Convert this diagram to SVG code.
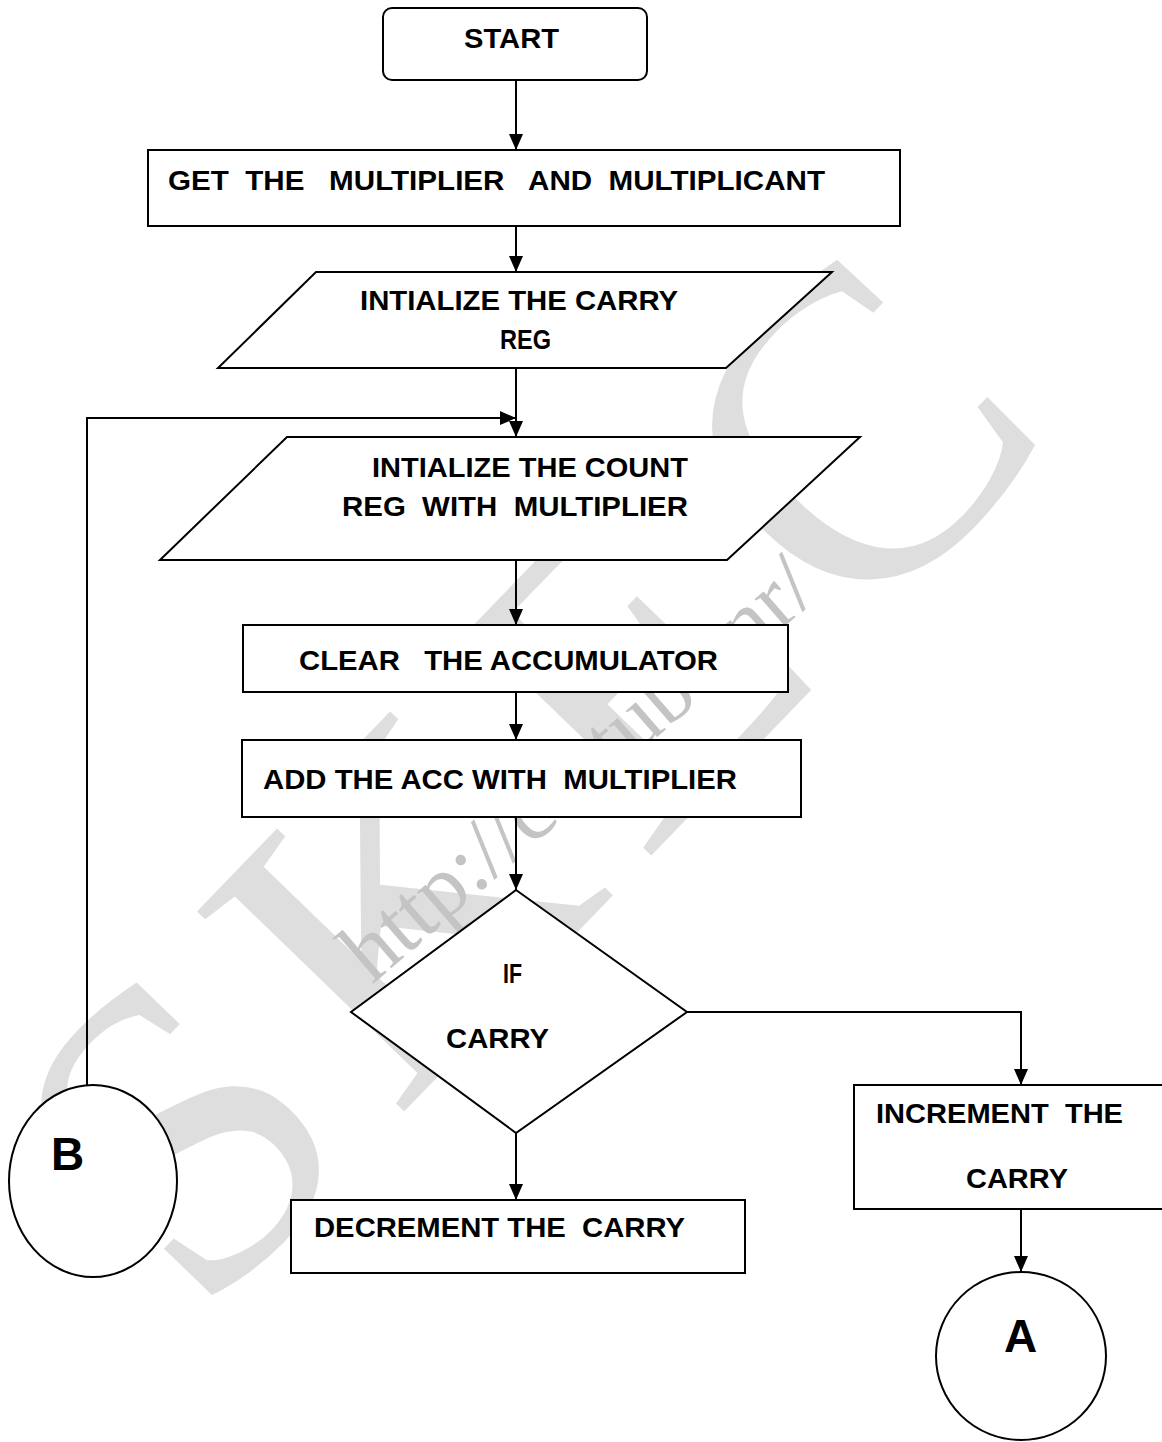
<svg xmlns="http://www.w3.org/2000/svg" width="1162" height="1442" viewBox="0 0 1162 1442">
<style>
.shape{fill:#fff;stroke:#000;stroke-width:2}
.t{font-family:"Liberation Sans",Arial,sans-serif;font-weight:bold;font-size:28px;fill:#000}
.n{font-family:"Liberation Sans",Arial,sans-serif;font-weight:bold;font-size:28px;fill:#000}
.big{font-family:"Liberation Sans",Arial,sans-serif;font-weight:bold;font-size:46px;fill:#000}
.wm{font-family:"Liberation Serif","Times New Roman",serif;fill:#dedede}
.conn{fill:none;stroke:#000;stroke-width:2}
</style>
<defs>
<marker id="ah" markerWidth="16" markerHeight="14" refX="16" refY="7" orient="auto" markerUnits="userSpaceOnUse"><path d="M0,0 L16,7 L0,14 z" fill="#000"/></marker>
</defs>
<rect width="1162" height="1442" fill="#fff"/>
<g id="watermark">
<text class="wm" font-size="440" letter-spacing="38" transform="translate(199,1324) rotate(-46)">SKEC</text>
<text class="wm" font-size="88" style="fill:#c4c4c4" transform="translate(372,985) rotate(-41)">http://csetube.nr/</text>
</g>
<g id="connectors">
<path class="conn" d="M516,80 V150" marker-end="url(#ah)"/>
<path class="conn" d="M516,226 V272" marker-end="url(#ah)"/>
<path class="conn" d="M516,368 V437" marker-end="url(#ah)"/>
<path class="conn" d="M87,1085 V418 H516" marker-end="url(#ah)"/>
<path class="conn" d="M516,560 V625" marker-end="url(#ah)"/>
<path class="conn" d="M516,692 V740" marker-end="url(#ah)"/>
<path class="conn" d="M516,817 V890" marker-end="url(#ah)"/>
<path class="conn" d="M687,1012 H1021 V1085" marker-end="url(#ah)"/>
<path class="conn" d="M516,1133 V1200" marker-end="url(#ah)"/>
<path class="conn" d="M1021,1209 V1272" marker-end="url(#ah)"/>
</g>
<g id="start">
<rect class="shape" x="383" y="8" width="264" height="72" rx="9"/>
<text class="t" x="464" y="48" textLength="95" lengthAdjust="spacingAndGlyphs">START</text>
</g>
<g id="get">
<rect class="shape" x="148" y="150" width="752" height="76"/>
<text class="n" x="168" y="190" xml:space="preserve" textLength="657" lengthAdjust="spacingAndGlyphs">GET  THE   MULTIPLIER   AND  MULTIPLICANT</text>
</g>
<g id="initcarry">
<polygon class="shape" points="316,272 832,272 726,368 218,368"/>
<text class="n" x="360" y="310" textLength="318" lengthAdjust="spacingAndGlyphs">INTIALIZE THE CARRY</text>
<text class="n" x="500" y="349" textLength="51" lengthAdjust="spacingAndGlyphs">REG</text>
</g>
<g id="initcount">
<polygon class="shape" points="287,437 860,437 727,560 160,560"/>
<text class="n" x="372" y="477" textLength="316" lengthAdjust="spacingAndGlyphs">INTIALIZE THE COUNT</text>
<text class="n" x="342" y="516" xml:space="preserve" textLength="346" lengthAdjust="spacingAndGlyphs">REG  WITH  MULTIPLIER</text>
</g>
<g id="clear">
<rect class="shape" x="243" y="625" width="545" height="67"/>
<text class="t" x="299" y="670" xml:space="preserve" textLength="419" lengthAdjust="spacingAndGlyphs">CLEAR   THE ACCUMULATOR</text>
</g>
<g id="add">
<rect class="shape" x="242" y="740" width="559" height="77"/>
<text class="t" x="263" y="789" xml:space="preserve" textLength="474" lengthAdjust="spacingAndGlyphs">ADD THE ACC WITH  MULTIPLIER</text>
</g>
<g id="ifcarry">
<polygon class="shape" points="516,890 687,1012 516,1133 351,1012"/>
<text class="t" x="503" y="983" textLength="19" lengthAdjust="spacingAndGlyphs">IF</text>
<text class="t" x="446" y="1048" textLength="103" lengthAdjust="spacingAndGlyphs">CARRY</text>
</g>
<g id="decrement">
<rect class="shape" x="291" y="1200" width="454" height="73"/>
<text class="t" x="314" y="1237" xml:space="preserve" textLength="371" lengthAdjust="spacingAndGlyphs">DECREMENT THE  CARRY</text>
</g>
<g id="increment">
<rect class="shape" x="854" y="1085" width="320" height="124"/>
<text class="t" x="876" y="1123" xml:space="preserve" textLength="247" lengthAdjust="spacingAndGlyphs">INCREMENT  THE</text>
<text class="t" x="966" y="1188" textLength="102" lengthAdjust="spacingAndGlyphs">CARRY</text>
</g>
<g id="b">
<ellipse class="shape" cx="93" cy="1181" rx="84" ry="96"/>
<text class="big" x="51" y="1170">B</text>
</g>
<g id="a">
<ellipse class="shape" cx="1021" cy="1356" rx="85" ry="84"/>
<text class="big" x="1004" y="1352">A</text>
</g>
</svg>
